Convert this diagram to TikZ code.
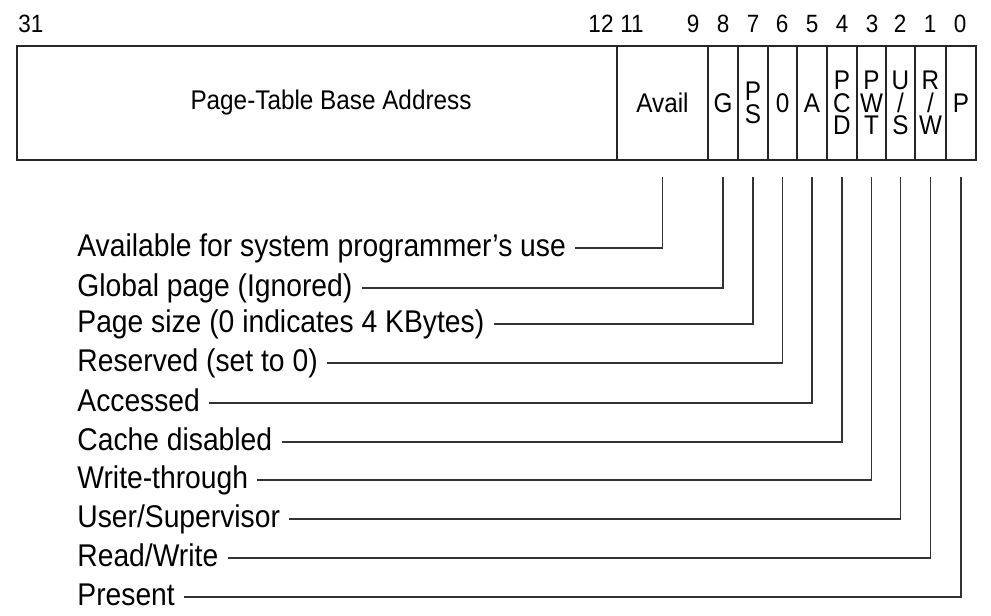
\documentclass[tikz,border=0pt]{standalone}
\usepackage{fontspec}
\setmainfont[FakeStretch=0.9]{Liberation Sans}
\usepackage{tikz}
\usetikzlibrary{calc}
\tikzstyle{field} = [draw=black!85, line width=1pt, inner sep=0pt, outer sep=0pt,
  minimum height=57.25pt, align=center, font=\fontsize{13.5}{11.2}\selectfont]
\tikzstyle{bitno} = [inner sep=0pt, text height=9pt, text depth=0pt,
  font=\fontsize{12.5}{13}\selectfont]
\tikzstyle{desc} = [anchor=west, inner xsep=4.5pt, inner ysep=0pt,
  text height=11.5pt, text depth=3.5pt, font=\fontsize{15.7}{16}\selectfont]
\tikzstyle{lead} = [draw=black!80, line width=0.75pt]

\begin{document}
\begin{tikzpicture}[x=0.5pt, y=-0.5pt]
  \useasboundingbox (0,0) rectangle (991,616);
  % the entry
  \node[field, minimum width=300pt] (base) at (317,103) {\hspace*{14pt}Page-Table Base Address};
  \node[field, minimum width=45.5pt] (avail) at (662.5,103) {Avail};
  \node[field, minimum width=15pt] (g) at (723,103) {G};
  \node[field, minimum width=15pt] (ps) at (753,103) {P\\S};
  \node[field, minimum width=14.5pt] (rsv) at (782.5,103) {0};
  \node[field, minimum width=15pt] (a) at (812,103) {A};
  \node[field, minimum width=15pt] (pcd) at (842,103) {P\\C\\D};
  \node[field, minimum width=14.5pt] (pwt) at (871.5,103) {P\\W\\T};
  \node[field, minimum width=14.5pt] (us) at (900.5,103) {U\\/\\S};
  \node[field, minimum width=15.5pt] (rw) at (930.5,103) {R\\/\\W};
  \node[field, minimum width=15pt] (p) at (961,103) {P};
  % bit numbers
  \foreach \n/\x in {31/31,12/601,11/632,9/693,8/723,7/753,6/782,5/812,4/842,3/872,2/900,1/930,0/960}
    \node[bitno] (bit\n) at (\x,23.5) {\n};
  % descriptions
  \node[desc] (lavail) at (68,248) {Available for system programmer's use};
  \node[desc] (lg) at (68,288) {Global page (Ignored)};
  \node[desc] (lps) at (68,324) {Page size (0 indicates 4 KBytes)};
  \node[desc] (lrsv) at (68,363) {Reserved (set to 0)};
  \node[desc] (la) at (68,403) {Accessed};
  \node[desc] (lpcd) at (68,442) {Cache disabled};
  \node[desc] (lpwt) at (68,480) {Write-through};
  \node[desc] (lus) at (68,519) {User/Supervisor};
  \node[desc] (lrw) at (68,558) {Read/Write};
  \node[desc] (lp) at (68,597) {Present};
  \draw[lead] (lavail.east) -| ([yshift=-8.25pt]avail.south);
  \draw[lead] (lg.east) -| ([yshift=-8.25pt]g.south);
  \draw[lead] (lps.east) -| ([yshift=-8.25pt]ps.south);
  \draw[lead] (lrsv.east) -| ([yshift=-8.25pt]rsv.south);
  \draw[lead] (la.east) -| ([yshift=-8.25pt]a.south);
  \draw[lead] (lpcd.east) -| ([yshift=-8.25pt]pcd.south);
  \draw[lead] (lpwt.east) -| ([yshift=-8.25pt]pwt.south);
  \draw[lead] (lus.east) -| ([yshift=-8.25pt]us.south);
  \draw[lead] (lrw.east) -| ([yshift=-8.25pt]rw.south);
  \draw[lead] (lp.east) -| ([yshift=-8.25pt]p.south);
\end{tikzpicture}
\end{document}
